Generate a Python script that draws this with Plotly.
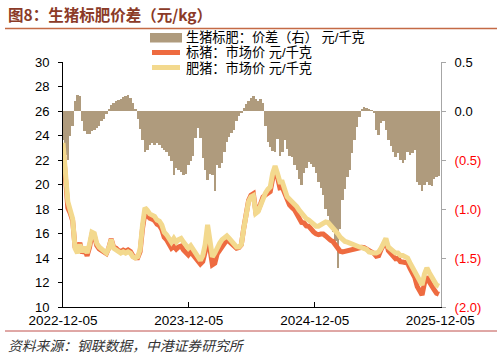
import pandas as pd
import plotly.graph_objects as go

# ---------------- data (weekly) ----------------
start_date = "2022-12-05"
n_weeks = 157

spread = [
    -0.3, -0.45, -0.5, -0.25, -0.15, 0.1, 0.16, 0.15, -0.1, -0.2,
    -0.23, -0.23, -0.2, -0.19, -0.17, -0.15, -0.1, -0.08, -0.03, 0.02,
    0.06, 0.08, 0.1, 0.11, 0.12, 0.14, 0.15, 0.16, 0.13, 0.08,
    0.02, -0.08, -0.18, -0.3, -0.42, -0.4, -0.35, -0.33, -0.35, -0.33,
    -0.35, -0.38, -0.4, -0.42, -0.46, -0.51, -0.65, -0.58, -0.6, -0.62,
    -0.65, -0.64, -0.55, -0.51, -0.46, -0.28, -0.17, -0.28, -0.48, -0.6,
    -0.7, -0.64, -0.65, -0.82, -0.55, -0.58, -0.53, -0.42, -0.32, -0.27,
    -0.22, -0.19, -0.1, -0.05, -0.02, 0.03, 0.07, 0.1, 0.13, 0.15,
    0.12, 0.1, 0.12, 0.08, -0.15, -0.32, -0.37, -0.41, -0.42, -0.29,
    -0.46, -0.42, -0.3, -0.39, -0.46, -0.47, -0.55, -0.6, -0.69, -0.75,
    -0.63, -0.58, -0.52, -0.54, -0.57, -0.63, -0.72, -0.79, -0.86, -1.0,
    -1.07, -1.16, -1.23, -1.33, -1.6, -1.2, -0.91, -0.8, -0.67, -0.6,
    -0.43, -0.3, -0.16, -0.06, 0.02, 0.04, 0.03, 0.02, 0.01, -0.02,
    -0.19, -0.24, -0.12, -0.1, -0.19, -0.3, -0.36, -0.42, -0.47, -0.43,
    -0.5, -0.53, -0.5, -0.42, -0.45, -0.43, -0.4, -0.72, -0.75, -0.82,
    -0.75, -0.72, -0.75, -0.77, -0.69, -0.67, -0.66,
]

fat_price = [
    23.4, 20.8, 18.6, 17.9, 17.2, 14.8, 14.4, 15.1, 14.5, 14.9,
    14.4, 15.1, 16.1, 16.0, 15.2, 14.9, 14.7, 14.5, 14.4, 14.8,
    15.5, 14.8, 14.7, 14.5, 14.4, 14.5, 14.4, 14.5, 14.4, 14.1,
    14.0, 14.1, 14.7, 16.7, 18.1, 17.9, 17.6, 17.5, 17.4, 17.1,
    17.0, 16.7, 16.1, 15.9, 15.6, 15.3, 15.6, 15.3, 15.5, 15.6,
    15.3, 15.1, 14.8, 15.0, 14.7, 14.4, 14.0, 13.8, 14.2, 15.1,
    16.7, 15.1, 14.1, 14.4, 14.9, 15.2, 15.5, 15.7, 15.8, 15.6,
    15.4, 15.2, 14.9, 14.9, 15.1, 16.4, 17.8, 18.6, 19.0, 19.1,
    17.65, 17.8, 18.3, 18.9, 19.3, 19.6, 19.8, 20.9, 21.5, 20.9,
    20.2, 20.2, 19.6, 19.0, 18.8, 18.6, 18.5, 18.2, 17.9, 17.65,
    17.5, 17.2, 17.1, 16.9, 16.7, 16.6, 16.6, 16.75, 16.85, 16.95,
    16.9, 16.7, 16.5, 16.2, 16.0, 15.7, 15.45, 15.35, 15.3, 15.2,
    15.1, 15.0, 14.95, 14.9, 14.85, 14.8, 14.7, 14.5, 14.4, 14.4,
    14.4, 14.5, 14.8, 15.2, 15.6, 14.9, 14.7, 14.5, 14.4, 14.4,
    14.2, 14.2, 14.1, 14.0, 13.6, 13.2, 12.8, 12.4, 12.0, 11.8,
    12.7, 13.2, 12.8, 12.4, 12.1, 11.8, 11.7,
]

std_price = [
    23.1, 20.35, 18.1, 17.65, 17.05, 14.9, 14.56, 15.25, 14.4, 14.7,
    14.17, 14.87, 15.9, 15.81, 15.03, 14.75, 14.6, 14.42, 14.37, 14.82,
    15.56, 14.88, 14.8, 14.61, 14.52, 14.64, 14.55, 14.66, 14.53, 14.18,
    14.02, 14.02, 14.52, 16.4, 17.68, 17.5, 17.25, 17.17, 17.05, 16.77,
    16.65, 16.32, 15.7, 15.48, 15.14, 14.79, 14.95, 14.72, 14.9, 14.98,
    14.65, 14.46, 14.25, 14.49, 14.24, 14.12, 13.83, 13.52, 13.72, 14.5,
    16.0, 14.46, 13.45, 13.58, 14.35, 14.62, 14.97, 15.28, 15.48, 15.33,
    15.18, 15.01, 14.8, 14.85, 15.08, 16.43, 17.87, 18.7, 19.13, 19.25,
    17.77, 17.9, 18.42, 18.98, 19.15, 19.28, 19.43, 20.49, 21.08, 20.61,
    19.74, 19.78, 19.3, 18.61, 18.34, 18.13, 17.95, 17.6, 17.21, 16.9,
    16.87, 16.62, 16.58, 16.26, 16.13, 15.97, 15.9, 15.95, 15.95, 15.8,
    15.55, 15.45, 15.35, 15.1, 14.8, 14.55, 14.5, 14.55, 14.6, 14.6,
    14.65, 14.7, 14.8, 14.85, 14.87, 14.84, 14.73, 14.52, 14.41, 14.38,
    14.15, 14.2, 14.68, 15.1, 15.41, 14.6, 14.34, 14.08, 13.93, 13.97,
    13.7, 13.67, 13.6, 13.58, 13.15, 12.77, 12.4, 11.68, 11.25, 10.98,
    11.95, 12.48, 12.05, 11.63, 11.41, 11.13, 11.04,
]

x_tick_vals = ["2022-12-05", "2023-12-05", "2024-12-05", "2025-12-05"]
x_tick_text = ["2022-12-05", "2023-12-05", "2024-12-05", "2025-12-05"]
left_tick_vals = [10, 12, 14, 16, 18, 20, 22, 24, 26, 28, 30]
right_tick_vals = [-2.0, -1.5, -1.0, -0.5, 0.0, 0.5]
right_tick_text = ["(2.0)", "(1.5)", "(1.0)", "(0.5)", "0.0", "0.5"]

series_names = ["生猪标肥：价差（右） 元/千克", "标猪：市场价 元/千克", "肥猪：市场价 元/千克"]
title_text = "图8：生猪标肥价差（元/kg）"
source_text = "资料来源：钢联数据，中港证券研究所"

dates = pd.date_range(start_date, periods=n_weeks, freq="7D")

# ---------------- styling ----------------
W, H = 502, 358
L, R, T, B = 63, 61, 62, 51
PW, PH = W - L - R, H - T - B

def px(x):
    return (x - L) / PW

def py(y):
    return (H - B - y) / PH

BAR_C = "#AF9B7D"
ORANGE = "#EE6B40"
YELLOW = "#F3D98E"
FONT = "Noto Sans CJK SC, Liberation Sans, Arial, sans-serif"
LEGFONT = "Liberation Sans, Noto Sans CJK SC, sans-serif"
NUMFONT = "Liberation Sans, Arial, sans-serif"

fig = go.Figure()
fig.add_trace(go.Bar(
    x=dates, y=spread, name=series_names[0], yaxis="y",
    marker=dict(color=BAR_C, line=dict(width=0)),
    width=7 * 86400000, showlegend=False,
))
fig.add_trace(go.Scatter(
    x=dates, y=std_price, name=series_names[1], yaxis="y2", mode="lines",
    line=dict(color=ORANGE, width=5), showlegend=False,
))
fig.add_trace(go.Scatter(
    x=dates, y=fat_price, name=series_names[2], yaxis="y2", mode="lines",
    line=dict(color=YELLOW, width=5), showlegend=False,
))

right_text = [
    t if v >= 0 else '<span style="color:#FF0000">%s</span>' % t
    for v, t in zip(right_tick_vals, right_tick_text)
]

fig.update_layout(
    width=W, height=H,
    margin=dict(l=L, r=R, t=T, b=B, pad=0),
    paper_bgcolor="white", plot_bgcolor="white",
    bargap=0, showlegend=False,
    font=dict(family=NUMFONT, size=13, color="#000000"),
    xaxis=dict(
        type="date", range=["2022-12-05", "2025-12-07"],
        tickvals=x_tick_vals, ticktext=x_tick_text,
        showgrid=False, zeroline=False,
        showline=True, linecolor="#000000", linewidth=1,
        ticks="inside", ticklen=5, tickcolor="#000000",
        tickfont=dict(size=13.5, color="#000000"),
        ticklabelstandoff=1,
        anchor="y",
    ),
    yaxis=dict(
        side="right", range=[-2.0, 0.5],
        tickvals=right_tick_vals, ticktext=right_text,
        showgrid=False, zeroline=False,
        showline=True, linecolor="#A6A6A6", linewidth=1,
        ticks="outside", ticklen=4, tickcolor="#A6A6A6",
        tickfont=dict(size=13, color="#000000"),
        ticklabelstandoff=6,
    ),
    yaxis2=dict(
        side="left", overlaying="y", range=[10, 30],
        tickvals=left_tick_vals,
        showgrid=False, zeroline=False,
        showline=True, linecolor="#000000", linewidth=1,
        ticks="outside", ticklen=4, tickcolor="#000000",
        tickfont=dict(size=13, color="#000000"),
        ticklabelstandoff=6,
    ),
)

shapes = []
annotations = []

# title + rules
annotations.append(dict(
    xref="paper", yref="paper", x=px(6), y=py(14), xanchor="left", yanchor="middle",
    text="<b>%s</b>" % title_text, showarrow=False,
    font=dict(family=FONT, size=15.5, color="#8B3A27"),
))
shapes.append(dict(type="line", xref="paper", yref="paper",
                   x0=px(5), x1=px(497), y0=py(28.5), y1=py(28.5),
                   line=dict(color="#C46A45", width=1.5)))
shapes.append(dict(type="line", xref="paper", yref="paper",
                   x0=px(5), x1=px(497), y0=py(331), y1=py(331),
                   line=dict(color="#C0504D", width=1)))
annotations.append(dict(
    xref="paper", yref="paper", x=px(6), y=py(344.5), xanchor="left", yanchor="middle",
    text="<i>%s</i>" % source_text, showarrow=False,
    font=dict(family=FONT, size=13.8, color="#333333"),
))

# legend (drawn manually to match the swatch shapes)
leg_y = [37.5, 52.5, 67.5]
shapes.append(dict(type="rect", xref="paper", yref="paper",
                   x0=px(150), x1=px(182), y0=py(42.5), y1=py(33),
                   fillcolor=BAR_C, line=dict(width=0)))
shapes.append(dict(type="line", xref="paper", yref="paper",
                   x0=px(152), x1=px(180), y0=py(leg_y[1]), y1=py(leg_y[1]),
                   line=dict(color=ORANGE, width=5)))
shapes.append(dict(type="line", xref="paper", yref="paper",
                   x0=px(152), x1=px(180), y0=py(leg_y[2]), y1=py(leg_y[2]),
                   line=dict(color=YELLOW, width=5)))
for name, yy in zip(series_names, leg_y):
    annotations.append(dict(
        xref="paper", yref="paper", x=px(185), y=py(yy), xanchor="left", yanchor="middle",
        text=name, showarrow=False, align="left", height=14, borderpad=0,
        font=dict(family=LEGFONT, size=13.2, color="#000000"),
    ))

fig.update_layout(shapes=shapes, annotations=annotations)
fig.write_html(
    "out.html",
    config={"displayModeBar": False},
    post_script="document.body.style.margin='0px';",
)
